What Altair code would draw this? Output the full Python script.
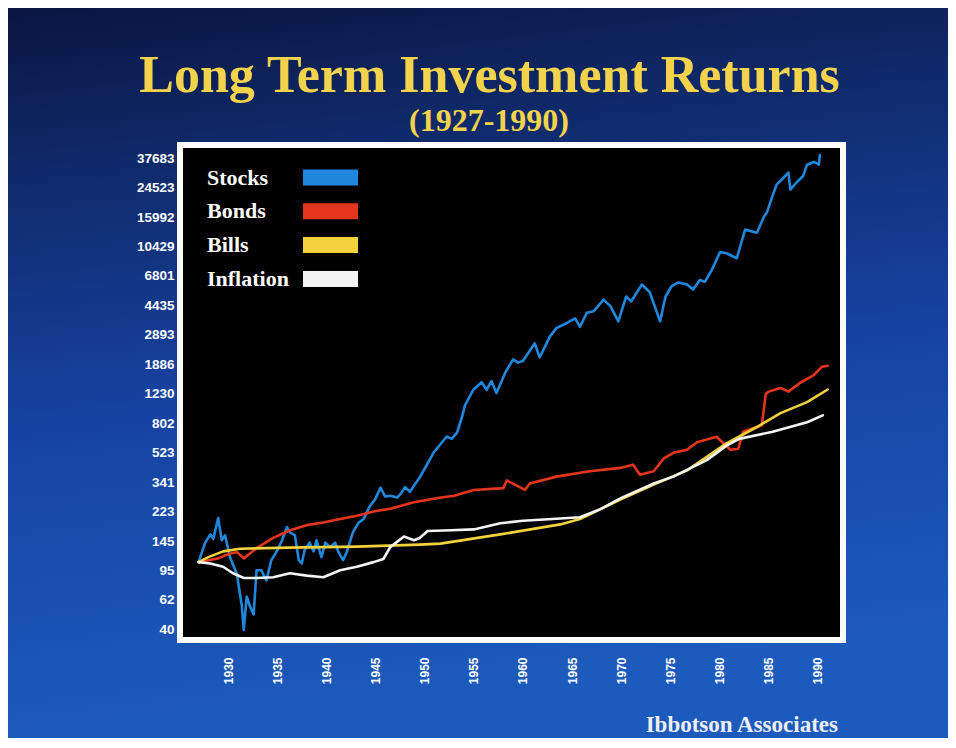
import altair as alt
import pandas as pd

# ---------------- data ----------------
stocks_year = [1927.0, 1927.66, 1928.2, 1928.5, 1929.0, 1929.36, 1929.7, 1930.2, 1930.9, 1931.4,
               1931.6, 1931.9, 1932.2, 1932.6, 1932.9, 1933.4, 1933.9, 1934.4, 1934.95, 1935.5,
               1936.0, 1936.3, 1936.8, 1937.2, 1937.5, 1937.8, 1938.3, 1938.7, 1939.0, 1939.5,
               1939.9, 1940.4, 1940.9, 1941.2, 1941.7, 1942.1, 1942.7, 1943.3, 1943.8, 1944.4,
               1944.95, 1945.5, 1946.0, 1946.5, 1947.2, 1947.6, 1948.0, 1948.5, 1949.0, 1949.53,
               1950.9, 1952.25, 1952.75, 1953.3, 1953.8, 1954.1, 1954.95, 1955.8, 1956.3, 1956.8,
               1957.3, 1958.2, 1959.0, 1959.5, 1960.0, 1961.2, 1961.7, 1962.75, 1963.4, 1964.3,
               1965.3, 1965.8, 1966.5, 1967.2, 1968.2, 1968.9, 1969.7, 1970.5, 1971.0, 1972.1,
               1972.9, 1973.95, 1974.5, 1975.1, 1975.8, 1976.7, 1977.3, 1978.0, 1978.5, 1979.2,
               1980.05, 1980.7, 1981.75, 1982.6, 1983.8, 1984.5, 1984.8, 1985.3, 1985.8, 1986.3,
               1987.0, 1987.2, 1987.85, 1988.5, 1988.9, 1989.6, 1990.1, 1990.2]
stocks_value = [107, 141, 160, 150, 203, 147, 158, 115, 90, 57,
                40, 65, 57, 50, 95, 95, 82, 110, 125, 147,
                178, 165, 158, 110, 105, 128, 142, 125, 147, 115,
                142, 133, 142, 125, 110, 125, 165, 190, 200, 240,
                265, 315, 277, 280, 273, 290, 318, 297, 330, 368,
                523, 662, 640, 700, 879, 1040, 1305, 1457, 1305, 1480,
                1245, 1672, 2030, 1935, 1980, 2560, 2086, 2830, 3190, 3400,
                3680, 3250, 3990, 4080, 4830, 4390, 3520, 5050, 4700, 6010,
                5370, 3520, 5050, 5840, 6190, 6010, 5600, 6420, 6250, 7410,
                9620, 9460, 8800, 13330, 12750, 15992, 17000, 21000, 25600, 27500,
                30500, 23800, 26500, 29000, 34200, 35600, 34200, 39400]

bonds_year = [1927.0, 1928.0, 1929.0, 1930.0, 1930.9, 1931.6, 1932.9, 1934.6, 1936.3, 1938.0,
              1939.7, 1941.4, 1943.1, 1944.8, 1946.5, 1948.9, 1951.5, 1953.0, 1955.0, 1958.0,
              1958.35, 1960.2, 1960.7, 1963.4, 1966.8, 1969.9, 1971.2, 1971.9, 1973.3, 1974.3,
              1975.3, 1976.7, 1977.7, 1979.7, 1980.4, 1981.1, 1981.9, 1982.4, 1983.8, 1984.3,
              1984.7, 1985.0, 1986.2, 1987.0, 1988.2, 1989.5, 1990.4, 1991.0]
bonds_value = [107, 110, 113, 120, 124, 113, 131, 152, 170, 183,
               190, 200, 210, 223, 232, 255, 272, 280, 305, 313,
               350, 305, 335, 370, 400, 420, 440, 380, 400, 480,
               523, 547, 610, 660, 600, 547, 555, 710, 760, 780,
               1230, 1270, 1340, 1270, 1445, 1600, 1820, 1850]

bills_year = [1927.0, 1928.0, 1929.5, 1931.2, 1936.3, 1943.1, 1949.5, 1951.6, 1957.7, 1963.8,
              1965.8, 1969.9, 1973.3, 1976.7, 1980.7, 1983.8, 1986.2, 1988.9, 1991.0]
bills_value = [107, 115, 125, 130, 132, 134, 138, 140, 160, 185,
               200, 265, 330, 405, 600, 760, 930, 1090, 1310]

inflation_year = [1927.0, 1928.2, 1929.5, 1930.5, 1931.6, 1932.9, 1934.6, 1936.3, 1938.0, 1939.7,
                  1941.4, 1943.1, 1944.8, 1945.8, 1946.5, 1947.9, 1948.9, 1949.5, 1950.3, 1952.7,
                  1955.0, 1957.7, 1960.0, 1963.0, 1965.8, 1967.9, 1969.9, 1973.3, 1975.3, 1978.7,
                  1980.7, 1982.0, 1985.4, 1988.9, 1990.5]
inflation_value = [107, 105, 100, 91, 85, 85, 86, 91, 88, 86,
                   95, 100, 107, 112, 133, 155, 147, 152, 168, 170,
                   172, 188, 195, 200, 205, 231, 270, 335, 370, 470,
                   580, 640, 710, 815, 900]

series_names = ["Stocks", "Bonds", "Bills", "Inflation"]
series_colors = ["#1f88dc", "#e5351d", "#f2d23c", "#f4f4f4"]
y_tick_values = [40, 62, 95, 145, 223, 341, 523, 802, 1230, 1886, 2893, 4435,
                 6801, 10429, 15992, 24523, 37683]
x_tick_values = [1930, 1935, 1940, 1945, 1950, 1955, 1960, 1965, 1970, 1975, 1980, 1985, 1990]

title_text = "Long Term Investment Returns"
subtitle_text = "(1927-1990)"
source_text = "Ibbotson Associates"

frames = []
for name, yrs, vals in [("Stocks", stocks_year, stocks_value),
                        ("Bonds", bonds_year, bonds_value),
                        ("Bills", bills_year, bills_value),
                        ("Inflation", inflation_year, inflation_value)]:
    frames.append(pd.DataFrame({"year": yrs, "value": vals, "series": name}))
df = pd.concat(frames, ignore_index=True)

# ---------------- layout ----------------
W, H = 657, 489
PAD_L, PAD_T = 175, 140
TOTAL_W, TOTAL_H = 940, 730
PAD_R = TOTAL_W - PAD_L - W
PAD_B = TOTAL_H - PAD_T - H

one = alt.Data(values=[{}])

background = alt.Chart(one).mark_rect(
    fill=alt.Gradient(
        gradient="linear",
        stops=[alt.GradientStop(color="#0a1540", offset=0),
               alt.GradientStop(color="#0f2866", offset=0.2),
               alt.GradientStop(color="#1642a0", offset=0.55),
               alt.GradientStop(color="#1c5bbd", offset=1)],
        x1=0, x2=0.15, y1=0, y2=1),
).encode(x=alt.value(-PAD_L), x2=alt.value(W + PAD_R),
         y=alt.value(-PAD_T), y2=alt.value(H + PAD_B))

frame = alt.Chart(one).mark_rect(fill="black", stroke="white", strokeWidth=6).encode(
    x=alt.value(-3), x2=alt.value(W + 3), y=alt.value(-3), y2=alt.value(H + 3))

lines = alt.Chart(df).mark_line(strokeWidth=2.6, strokeJoin="round", strokeCap="round").encode(
    x=alt.X("year:Q",
            scale=alt.Scale(domain=[1925.42, 1992.25], nice=False, zero=False),
            axis=alt.Axis(values=x_tick_values, format="d", labelAngle=270, labelAlign="right",
                          labelBaseline="middle", labelPadding=20, labelColor="white",
                          labelFont="Liberation Sans", labelFontWeight="bold", labelFontSize=12,
                          domain=False, ticks=False, grid=False, title=None, zindex=1,
                          labelFlush=False, labelOverlap=False)),
    y=alt.Y("value:Q",
            scale=alt.Scale(type="log", domain=[36.1, 43570], nice=False),
            axis=alt.Axis(values=y_tick_values, format="d", labelColor="white",
                          labelFont="Liberation Sans", labelFontWeight="bold", labelFontSize=13.5,
                          labelPadding=9, domain=False, ticks=False, grid=False, title=None,
                          zindex=1, labelFlush=False, labelOverlap=False)),
    color=alt.Color("series:N", scale=alt.Scale(domain=series_names, range=series_colors),
                    legend=None),
    detail="series:N",
)

layers = [background, frame, lines]

# hand-drawn legend (labels left, swatches right, as in the original)
for i, (name, col) in enumerate(zip(series_names, series_colors)):
    cy = 29.5 + i * 33.8
    layers.append(alt.Chart(one).mark_text(
        text=name, font="Liberation Serif", fontWeight="bold", fontSize=22, color="white",
        align="left", baseline="alphabetic").encode(x=alt.value(24), y=alt.value(cy + 7)))
    layers.append(alt.Chart(one).mark_rect(fill=col).encode(
        x=alt.value(120), x2=alt.value(175), y=alt.value(cy - 8), y2=alt.value(cy + 8)))

title = alt.Chart(one).mark_text(
    text=title_text, font="Liberation Serif", fontWeight="bold", fontSize=52, color="#f4d34c",
    align="center", baseline="alphabetic").encode(x=alt.value(306.5), y=alt.value(-56))
subtitle = alt.Chart(one).mark_text(
    text=subtitle_text, font="Liberation Serif", fontWeight="bold", fontSize=32, color="#f4d34c",
    align="center", baseline="alphabetic").encode(x=alt.value(306), y=alt.value(-17))
source = alt.Chart(one).mark_text(
    text=source_text, font="Liberation Serif", fontWeight="bold", fontSize=23, color="#eeeef4",
    align="right", baseline="alphabetic").encode(x=alt.value(655), y=alt.value(584))
layers += [title, subtitle, source]

chart = alt.layer(*layers).properties(
    width=W, height=H,
    autosize=alt.AutoSizeParams(type="none"),
    padding={"left": PAD_L, "top": PAD_T, "right": PAD_R, "bottom": PAD_B},
    background="#0a1540",
).configure_view(strokeWidth=0)

chart.save("out.html", embed_options={"renderer": "svg", "actions": False})
